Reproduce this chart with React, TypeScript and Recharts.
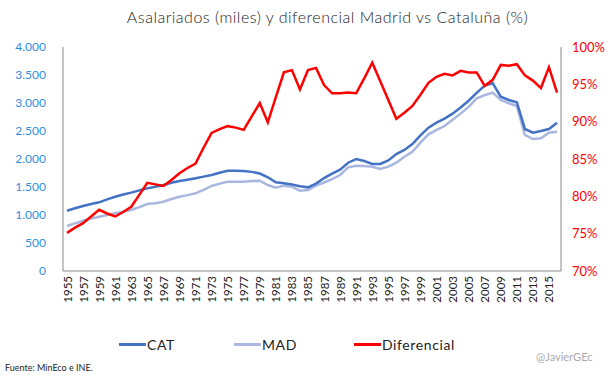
import React from 'react';
import { LineChart, Line, XAxis, YAxis } from 'recharts';

// ─────────────────────────────────────────────────────────────────────────────
// Data
// ─────────────────────────────────────────────────────────────────────────────

const years = [
  1955, 1956, 1957, 1958, 1959, 1960, 1961, 1962, 1963, 1964,
  1965, 1966, 1967, 1968, 1969, 1970, 1971, 1972, 1973, 1974,
  1975, 1976, 1977, 1978, 1979, 1980, 1981, 1982, 1983, 1984,
  1985, 1986, 1987, 1988, 1989, 1990, 1991, 1992, 1993, 1994,
  1995, 1996, 1997, 1998, 1999, 2000, 2001, 2002, 2003, 2004,
  2005, 2006, 2007, 2008, 2009, 2010, 2011, 2012, 2013, 2014,
  2015, 2016,
];

// Asalariados, miles
const cat = [
  1077, 1120, 1161, 1195, 1226, 1280, 1327, 1365, 1399, 1440,
  1476, 1506, 1536, 1575, 1607, 1630, 1655, 1685, 1714, 1755,
  1791, 1791, 1786, 1770, 1740, 1673, 1584, 1565, 1545, 1515,
  1494, 1560, 1660, 1740, 1810, 1934, 2000, 1964, 1911, 1911,
  1975, 2089, 2161, 2268, 2420, 2560, 2650, 2720, 2810, 2920,
  3040, 3180, 3310, 3352, 3112, 3054, 3012, 2536, 2470, 2500,
  2536, 2649,
];

const mad = [
  804, 850, 898, 935, 970, 1000, 1030, 1060, 1089, 1140,
  1196, 1210, 1238, 1285, 1327, 1355, 1387, 1450, 1518, 1560,
  1595, 1595, 1595, 1605, 1613, 1536, 1488, 1524, 1506, 1434,
  1446, 1524, 1580, 1640, 1714, 1851, 1881, 1875, 1860, 1821,
  1863, 1934, 2041, 2130, 2291, 2441, 2520, 2589, 2700, 2810,
  2930, 3084, 3140, 3184, 3054, 2995, 2946, 2429, 2357, 2370,
  2470, 2488,
];

// Diferencial MAD / CAT, %
const diferencial = [
  75.1, 75.8, 76.4, 77.3, 78.2, 77.7, 77.3, 77.9, 78.6, 80.2,
  81.8, 81.6, 81.4, 82.2, 83.1, 83.8, 84.4, 86.5, 88.5, 89.0,
  89.4, 89.2, 88.9, 90.7, 92.5, 89.9, 93.3, 96.6, 96.9, 94.3,
  96.9, 97.2, 94.9, 93.8, 93.8, 93.9, 93.8, 95.8, 97.9, 95.4,
  92.9, 90.4, 91.2, 92.1, 93.6, 95.2, 96.0, 96.4, 96.2, 96.8,
  96.6, 96.6, 94.8, 95.6, 97.6, 97.5, 97.7, 96.2, 95.5, 94.5,
  97.3, 93.9,
];

const leftTicks = [0, 500, 1000, 1500, 2000, 2500, 3000, 3500, 4000];
const rightTicks = [70, 75, 80, 85, 90, 95, 100];

const chartData = years.map((y, i) => ({
  year: y,
  cat: cat[i],
  mad: mad[i],
  dif: diferencial[i],
}));

const FONT = 'Lato, "DejaVu Sans", sans-serif';
const AXIS_GRAY = '#898989';
const CAT_COLOR = '#4472C4';
const MAD_COLOR = '#A9B7E0';
const DIF_COLOR = '#FF0000';

const fmtMiles = (v: number) =>
  v >= 1000 ? `${Math.floor(v / 1000)}.${String(v % 1000).padStart(3, '0')}` : String(v);

// rotated year labels under the x axis
const YearTick = (props: any) => {
  const { x, y, payload } = props;
  return (
    <text
      x={0}
      y={0}
      transform={`translate(${x},${y + 3}) rotate(-90)`}
      textAnchor="end"
      dominantBaseline="central"
      fontSize={11.5}
      fontFamily={FONT}
      fill="#222"
    >
      {payload.value}
    </text>
  );
};

const LegendItem = ({ color, label, left }: { color: string; label: string; left: number }) => (
  <div style={{ position: 'absolute', left, top: 336, display: 'flex', alignItems: 'center' }}>
    <div style={{ width: 27, height: 3, background: color }} />
    <span style={{ fontSize: 14, color: '#222', marginLeft: 1, letterSpacing: 0.6 }}>{label}</span>
  </div>
);

export default function App() {
  return (
    <div
      style={{
        position: 'absolute',
        left: 0,
        top: 0,
        width: 609,
        height: 378,
        background: '#fff',
        fontFamily: FONT,
        overflow: 'hidden',
      }}
    >
      <div
        style={{
          position: 'absolute',
          top: 7,
          left: 0,
          width: 655,
          textAlign: 'center',
          fontSize: 16,
          fontWeight: 300,
          letterSpacing: 0.5,
          color: '#222',
        }}
      >
        Asalariados (miles) y diferencial Madrid vs Cataluña (%)
      </div>

      <LineChart
        width={609}
        height={378}
        data={chartData}
        margin={{ top: 47, right: 0, bottom: 57, left: 0 }}
      >
        <XAxis
          dataKey="year"
          interval={1}
          height={50}
          padding={{ left: 4, right: 4 }}
          axisLine={{ stroke: AXIS_GRAY }}
          tickLine={false}
          tickSize={0}
          tick={<YearTick />}
        />
        <YAxis
          yAxisId="left"
          orientation="left"
          width={63}
          domain={[0, 4000]}
          ticks={leftTicks}
          tickFormatter={fmtMiles}
          axisLine={{ stroke: AXIS_GRAY }}
          tickLine={false}
          tickSize={0}
          tickMargin={17}
          tick={{ fill: '#2E8FDC', fontSize: 12, fontFamily: FONT }}
        />
        <YAxis
          yAxisId="right"
          orientation="right"
          width={48}
          domain={[70, 100]}
          ticks={rightTicks}
          tickFormatter={(v: number) => `${v}%`}
          axisLine={{ stroke: AXIS_GRAY }}
          tickLine={false}
          tickSize={0}
          tickMargin={11}
          tick={{ fill: DIF_COLOR, fontSize: 13, fontFamily: FONT }}
        />
        <Line
          yAxisId="left"
          dataKey="mad"
          stroke={MAD_COLOR}
          strokeWidth={2.5}
          dot={false}
          type="linear"
          isAnimationActive={false}
        />
        <Line
          yAxisId="left"
          dataKey="cat"
          stroke={CAT_COLOR}
          strokeWidth={2.5}
          dot={false}
          type="linear"
          isAnimationActive={false}
        />
        <Line
          yAxisId="right"
          dataKey="dif"
          stroke={DIF_COLOR}
          strokeWidth={2.5}
          dot={false}
          type="linear"
          isAnimationActive={false}
        />
      </LineChart>

      <LegendItem color={CAT_COLOR} label="CAT" left={119} />
      <LegendItem color={MAD_COLOR} label="MAD" left={234} />
      <LegendItem color={DIF_COLOR} label="Diferencial" left={354} />

      <div style={{ position: 'absolute', left: 5, top: 362, fontSize: 9, color: '#222' }}>
        Fuente: MinEco e INE.
      </div>
      <div style={{ position: 'absolute', left: 536, top: 350, fontSize: 11, color: '#aaa' }}>
        @JavierGEc
      </div>
    </div>
  );
}
